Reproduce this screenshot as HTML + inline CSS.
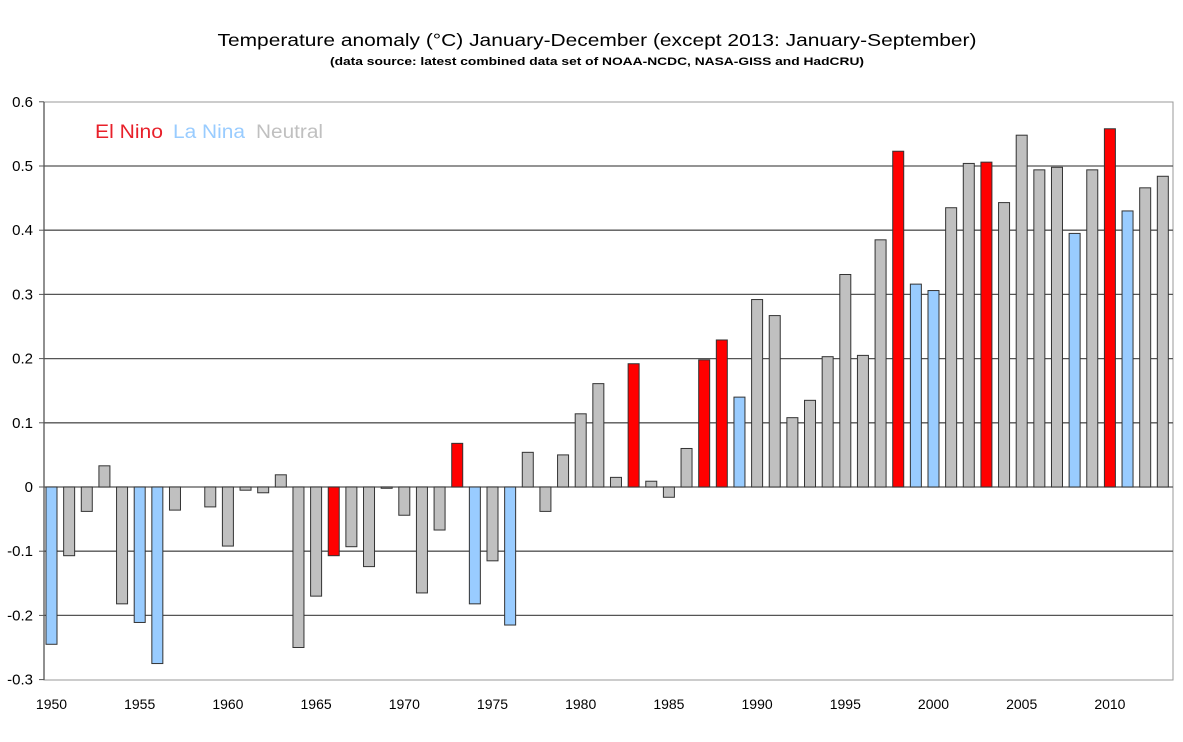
<!DOCTYPE html>
<html><head><meta charset="utf-8"><style>
html,body{margin:0;padding:0;background:#fff;}
svg{display:block;font-family:"Liberation Sans",Arial,sans-serif;}
</style></head><body>
<svg id="c" width="1183" height="742" viewBox="0 0 1183 742" xmlns="http://www.w3.org/2000/svg">
<rect width="1183" height="742" fill="#fff"/>
<text x="597" y="46" font-size="17.5" text-anchor="middle" textLength="759" lengthAdjust="spacingAndGlyphs">Temperature anomaly (°C) January-December (except 2013: January-September)</text>
<text x="597" y="65" font-size="11" font-weight="bold" text-anchor="middle" textLength="534" lengthAdjust="spacingAndGlyphs">(data source: latest combined data set of NOAA-NCDC, NASA-GISS and HadCRU)</text>
<rect x="44" y="102" width="1129" height="578" fill="#fff" stroke="#999" stroke-width="1"/>
<g id="grid"></g>
<g id="bars"></g>
<g id="labels" font-size="14" fill="#000"></g>
<text x="95" y="138" font-size="19" fill="#e8202a" textLength="68" lengthAdjust="spacingAndGlyphs">El Nino</text>
<text x="173" y="138" font-size="19" fill="#99ccff" textLength="72" lengthAdjust="spacingAndGlyphs">La Nina</text>
<text x="256" y="138" font-size="19" fill="#c0c0c0" textLength="67" lengthAdjust="spacingAndGlyphs">Neutral</text>
</svg>
<script>
var v=[-0.245,-0.107,-0.038,0.033,-0.182,-0.211,-0.275,-0.036,0,-0.031,-0.092,-0.005,-0.009,0.019,-0.250,-0.170,-0.107,-0.093,-0.124,-0.002,-0.044,-0.165,-0.067,0.068,-0.182,-0.115,-0.215,0.054,-0.038,0.050,0.114,0.161,0.015,0.192,0.009,-0.016,0.060,0.198,0.229,0.140,0.292,0.267,0.108,0.135,0.203,0.331,0.205,0.385,0.523,0.316,0.306,0.435,0.504,0.506,0.443,0.548,0.494,0.498,0.395,0.494,0.558,0.430,0.466,0.484];
var red=[1966,1973,1983,1987,1988,1998,2003,2010],blue=[1950,1955,1956,1974,1976,1989,1999,2000,2008,2011];
var ns="http://www.w3.org/2000/svg";
function el(n,a,p,t){var e=document.createElementNS(ns,n);for(var k in a)e.setAttribute(k,a[k]);if(t!=null)e.textContent=t;document.getElementById(p).appendChild(e);}
var Y=function(val){return 487-val*642;};
var tl=["0.6","0.5","0.4","0.3","0.2","0.1","0","-0.1","-0.2","-0.3"];
for(var i=0;i<10;i++){var val=0.6-i*0.1,y=Y(val);
 if(i>0&&i<9)el("line",{x1:44,x2:1173,y1:y,y2:y,stroke:"#555","stroke-width":1.3},"grid");
 el("line",{x1:39,x2:44,y1:y,y2:y,stroke:"#555"},"grid");
 var t=tl[i];
 el("text",{x:33,y:y+5,"text-anchor":"end","font-size":15},"labels",t);}
el("line",{x1:44,x2:44,y1:102,y2:680,stroke:"#555","stroke-width":1.3},"grid");
for(var i=0;i<v.length;i++){var yr=1950+i,x=44+i*17.64+2;
 var c=red.indexOf(yr)>=0?"#ff0000":(blue.indexOf(yr)>=0?"#99ccff":"#c0c0c0");
 var y0=Y(Math.max(v[i],0)),h=Math.abs(v[i])*642;
 if(h>0.5)el("rect",{x:x,y:y0,width:11,height:h,fill:c,stroke:"#333","stroke-width":1},"bars");
 if(yr%5==0)el("text",{x:x+5.5,y:709,"text-anchor":"middle"},"labels",String(yr));}
</script>
</body></html>
